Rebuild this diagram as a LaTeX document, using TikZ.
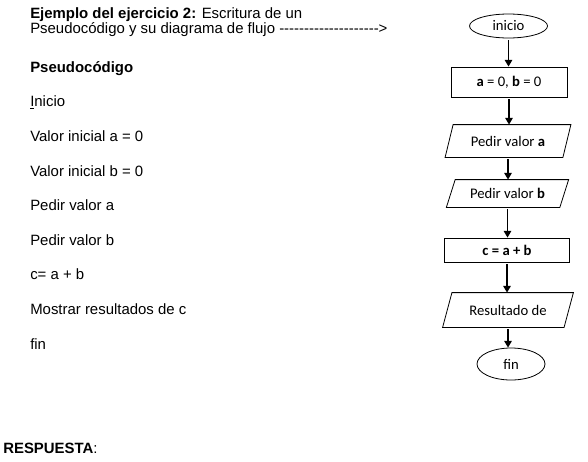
\documentclass[tikz,border=0pt]{standalone}
\usepackage{fontspec}
\setmainfont{Liberation Sans}
\newfontfamily\calibri{Carlito}
\usetikzlibrary{arrows.meta,shapes.geometric}
\newcommand{\guiones}{-{}-{}-{}-{}-{}-{}-{}-{}-{}-{}-{}-{}-{}-{}-{}-{}-{}-{}-{}-{}>}
\newcommand{\paralelo}[2]{\draw[line width=0.6pt] ([xshift=#2]#1.north west)--([xshift=#2]#1.north east)--([xshift=-#2]#1.south east)--([xshift=-#2]#1.south west)--cycle;}

\begin{document}
\begin{tikzpicture}[x=0.75pt,y=-0.75pt,
    txt/.style={anchor=base west,inner sep=0pt,font=\fontsize{11.2}{13}\selectfont},
    caja/.style={draw,line width=0.6pt,inner sep=0pt,font=\calibri\fontsize{11}{13}\selectfont},
    term/.style={caja,ellipse},
    proc/.style={caja,rectangle},
    datos/.style={caja,draw=none,rectangle},
    flecha/.style={-{Triangle[length=5pt,width=5.5pt]},line width=1.3pt,shorten <=1.5pt}]
    \useasboundingbox (0,0) rectangle (588,461);
    % pseudocodigo
    \node[txt] (tit1) at (30,18) {\textbf{Ejemplo del ejercicio 2:} Escritura de un};
    \node[txt] (tit2) at (30,33) {Pseudocódigo y su diagrama de flujo \guiones};
    \node[txt] (pseudo) at (30,72) {\textbf{Pseudocódigo}};
    \node[txt] (l0) at (30,106) {\underline{I}nicio};
    \node[txt] (l1) at (30,141.5) {Valor inicial a = 0};
    \node[txt] (l2) at (30,176.5) {Valor inicial b = 0};
    \node[txt] (l3) at (30,210.5) {Pedir valor a};
    \node[txt] (l4) at (30,245) {Pedir valor b};
    \node[txt] (l5) at (30,279) {c= a + b};
    \node[txt] (l6) at (30,314.5) {Mostrar resultados de c};
    \node[txt] (l7) at (30,349) {fin};
    \node[txt] (resp) at (3,453) {\textbf{RESPUESTA}:};
    % diagrama de flujo
    \node[term,minimum width=58.5pt,minimum height=18pt] (inicio) at (508.5,26) {inicio};
    \node[proc,minimum width=87pt,minimum height=22.5pt] (ini) at (509,82) {\textbf{a} = 0, \textbf{b} = 0};
    \node[datos,minimum width=87.75pt,minimum height=24pt] (pa) at (508,141) {Pedir valor \textbf{a}};
    \node[datos,minimum width=84.5pt,minimum height=20.25pt] (pb) at (507.5,193.5) {Pedir valor \textbf{b}};
    \node[proc,minimum width=93.75pt,minimum height=18pt] (suma) at (507,250) {\textbf{c = a + b}};
    \node[datos,minimum width=90.5pt,minimum height=25.5pt] (res) at (508,310) {Resultado de};
    \node[term,minimum width=51pt,minimum height=24pt] (fin) at (511,364) {fin};
    \paralelo{pa}{3pt}
    \paralelo{pb}{3.3pt}
    \paralelo{res}{3.5pt}
    \draw[flecha] (inicio.south) -- (inicio.south |- ini.north);
    \draw[flecha] (ini.south) -- (ini.south |- pa.north);
    \draw[flecha] (pa.south) -- (pa.south |- pb.north);
    \draw[flecha] (pb.south) -- (pb.south |- suma.north);
    \draw[flecha] (suma.south) -- (suma.south |- res.north);
    \draw[flecha] (res.south) -- (res.south |- fin.north);
\end{tikzpicture}
\end{document}
